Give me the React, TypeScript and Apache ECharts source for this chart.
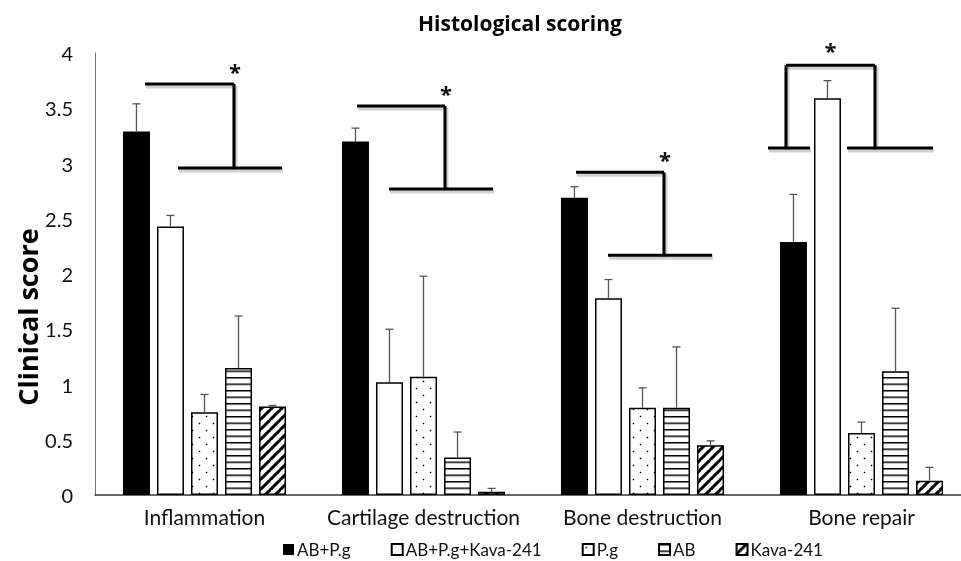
import React, { useEffect, useRef } from "react";
import * as echarts from "echarts";

const categories = ["Inflammation", "Cartilage destruction", "Bone destruction", "Bone repair"];
const seriesNames = ["AB+P.g", "AB+P.g+Kava-241", "P.g", "AB", "Kava-241"];
const yTicks = [0, 0.5, 1, 1.5, 2, 2.5, 3, 3.5, 4];

const abPg = [3.29, 3.2, 2.69, 2.29];
const abPgKava = [2.43, 1.02, 1.78, 3.59];
const pg = [0.75, 1.07, 0.79, 0.56];
const ab = [1.15, 0.34, 0.79, 1.12];
const kava = [0.8, 0.03, 0.45, 0.13];

const abPgErr = [0.25, 0.12, 0.1, 0.43];
const abPgKavaErr = [0.1, 0.48, 0.17, 0.16];
const pgErr = [0.16, 0.91, 0.18, 0.1];
const abErr = [0.47, 0.23, 0.55, 0.57];
const kavaErr = [0.01, 0.03, 0.04, 0.12];

// significance brackets: category, upper level, lower level, kind
const bracketCats = [0, 1, 2, 3];
const bracketTop = [3.72, 3.52, 2.92, 3.89];
const bracketBottom = [2.96, 2.77, 2.17, 3.14];
const bracketKind = [0, 0, 0, 1];
const bracketLabel = "*";

const BAR_W = 27;
const BAR_GAP = 0.26;
const SLOT = BAR_W * (1 + BAR_GAP);
const FONT = "Lato, 'Open Sans', sans-serif";
const BOLD_FONT = "'Open Sans', Lato, sans-serif";

function makeTile(kind: string) {
  const S = 4;
  let w = 14, h = 14;
  if (kind === "hline") { w = 10; h = 6.5; }
  if (kind === "diag") { w = 10; h = 10; }
  const c = document.createElement("canvas");
  c.width = Math.round(w * S);
  c.height = Math.round(h * S);
  const ctx = c.getContext("2d")!;
  ctx.fillStyle = "#fff";
  ctx.fillRect(0, 0, c.width, c.height);
  ctx.fillStyle = "#000";
  ctx.strokeStyle = "#000";
  if (kind === "dots") {
    ctx.beginPath();
    ctx.arc(3.5 * S, 3.5 * S, 0.8 * S, 0, Math.PI * 2);
    ctx.fill();
    ctx.beginPath();
    ctx.arc(10.5 * S, 10.5 * S, 0.8 * S, 0, Math.PI * 2);
    ctx.fill();
  } else if (kind === "hline") {
    ctx.fillRect(0, 0, c.width, 1.5 * S);
  } else if (kind === "diag") {
    ctx.lineWidth = 3 * S;
    const W = c.width, H = c.height;
    for (const o of [-W, 0, W]) {
      ctx.beginPath();
      ctx.moveTo(o - 2, H + 2);
      ctx.lineTo(o + W + 2, -2);
      ctx.stroke();
    }
  }
  return { image: c, repeat: "repeat", imageWidth: w, imageHeight: h } as any;
}

export default function App() {
  const ref = useRef<HTMLDivElement>(null);
  useEffect(() => {
    document.body.style.margin = "0";
    const chart = echarts.init(ref.current!, null, { renderer: "svg" });
    const values = [abPg, abPgKava, pg, ab, kava];
    const errs = [abPgErr, abPgKavaErr, pgErr, abErr, kavaErr];
    const fills = ["#000", "#fff", makeTile("dots"), makeTile("hline"), makeTile("diag")];

    const barSeries = seriesNames.map((name, s) => ({
      name,
      type: "bar",
      barWidth: BAR_W,
      barGap: BAR_GAP * 100 + "%",
      data: values[s],
      itemStyle: {
        color: fills[s],
        borderColor: "#000",
        borderWidth: s === 0 ? 0 : 1.5,
      },
      emphasis: { disabled: true },
    }));

    const errData: number[][] = [];
    values.forEach((arr, s) => arr.forEach((v, c) => errData.push([c, v, errs[s][c], s])));

    const bracketData = bracketCats.map((c, i) => [c, bracketTop[i], bracketBottom[i], bracketKind[i]]);

    chart.setOption({
      animation: false,
      title: {
        text: "Histological scoring",
        left: 413,
        top: 7,
        textStyle: { fontFamily: BOLD_FONT, fontWeight: "bold", fontSize: 21, color: "#000" },
      },
      legend: {
        data: seriesNames,
        left: 278,
        top: 536,
        itemWidth: 11,
        itemHeight: 11,
        itemGap: 40,
        icon: "rect",
        textStyle: { fontFamily: FONT, fontSize: 17, color: "#111", padding: [0, 0, 0, -2] },
      },
      graphic: [
        {
          type: "text",
          x: 27,
          y: 317,
          rotation: Math.PI / 2,
          style: {
            text: "Clinical score",
            font: "bold 27px " + BOLD_FONT,
            fill: "#000",
            textAlign: "center",
            textVerticalAlign: "middle",
          },
        },
      ],
      grid: { left: 95, right: 0, top: 53, bottom: 66 },
      xAxis: {
        type: "category",
        data: categories,
        axisLine: { lineStyle: { color: "#333", width: 1.5 } },
        axisTick: { show: false },
        axisLabel: { fontFamily: FONT, fontSize: 21, color: "#111", margin: 11, interval: 0 },
      },
      yAxis: {
        type: "value",
        min: yTicks[0],
        max: yTicks[yTicks.length - 1],
        interval: yTicks[1] - yTicks[0],
        axisLine: { show: true, lineStyle: { color: "#777", width: 1 } },
        axisTick: { show: false },
        splitLine: { show: false },
        axisLabel: { fontFamily: FONT, fontSize: 20, color: "#111", margin: 22 },
      },
      series: [
        ...barSeries,
        {
          type: "custom",
          name: "err",
          data: errData,
          z: 3,
          silent: true,
          renderItem: (_p: any, api: any) => {
            const c = api.value(0), v = api.value(1), e = api.value(2), s = api.value(3);
            const b = api.coord([c, v]);
            const t = api.coord([c, v + e]);
            const x = b[0] + (s - 2) * SLOT;
            const st = { stroke: "#555", lineWidth: 1.3 };
            return {
              type: "group",
              children: [
                { type: "line", shape: { x1: x, y1: b[1], x2: x, y2: t[1] }, style: st },
                { type: "line", shape: { x1: x - 4, y1: t[1], x2: x + 4, y2: t[1] }, style: st },
              ],
            };
          },
        },
        {
          type: "custom",
          name: "brackets",
          data: bracketData,
          z: 4,
          silent: true,
          renderItem: (_p: any, api: any) => {
            const c = api.value(0), top = api.value(1), bot = api.value(2), kind = api.value(3);
            const cx = api.coord([c, 0])[0];
            const yt = api.coord([c, top])[1];
            const yb = api.coord([c, bot])[1];
            const segs: number[][] = [];
            let starX: number;
            let starY: number;
            if (kind === 0) {
              const left = c === 0 ? -59.5 : -66.5;
              const right = c === 0 ? 29.5 : 21.5;
              segs.push([left, yt, right, yt], [right, yt, right, yb], [right - 56, yb, right + 48, yb]);
              starX = right + 1;
              starY = yt - 13;
            } else {
              segs.push(
                [-75.5, yt, 13.5, yt],
                [-75.5, yt, -75.5, yb],
                [13.5, yt, 13.5, yb],
                [-93.5, yb, -51.5, yb],
                [-14.5, yb, 71.5, yb]
              );
              starX = -31;
              starY = yt - 15;
            }
            const children: any[] = [];
            segs.forEach((g) => {
              children.push({
                type: "line",
                shape: { x1: cx + g[0] + 1, y1: g[1] + 2, x2: cx + g[2] + 1, y2: g[3] + 2 },
                style: { stroke: "rgba(0,0,0,0.18)", lineWidth: 5 },
              });
            });
            segs.forEach((g) => {
              children.push({
                type: "line",
                shape: { x1: cx + g[0], y1: g[1], x2: cx + g[2], y2: g[3] },
                style: { stroke: "#000", lineWidth: 3 },
              });
            });
            children.push({
              type: "text",
              x: cx + starX,
              y: starY,
              style: {
                text: bracketLabel,
                font: "bold 22px " + BOLD_FONT,
                fill: "#111",
                textAlign: "center",
                textVerticalAlign: "middle",
              },
            });
            return { type: "group", children };
          },
        },
      ],
    });
    return () => chart.dispose();
  }, []);
  return (
    <div style={{ position: "fixed", left: 0, top: 0, width: 961, height: 561, overflow: "hidden" }}>
      <div ref={ref} style={{ width: 971, height: 561 }} />
    </div>
  );
}
